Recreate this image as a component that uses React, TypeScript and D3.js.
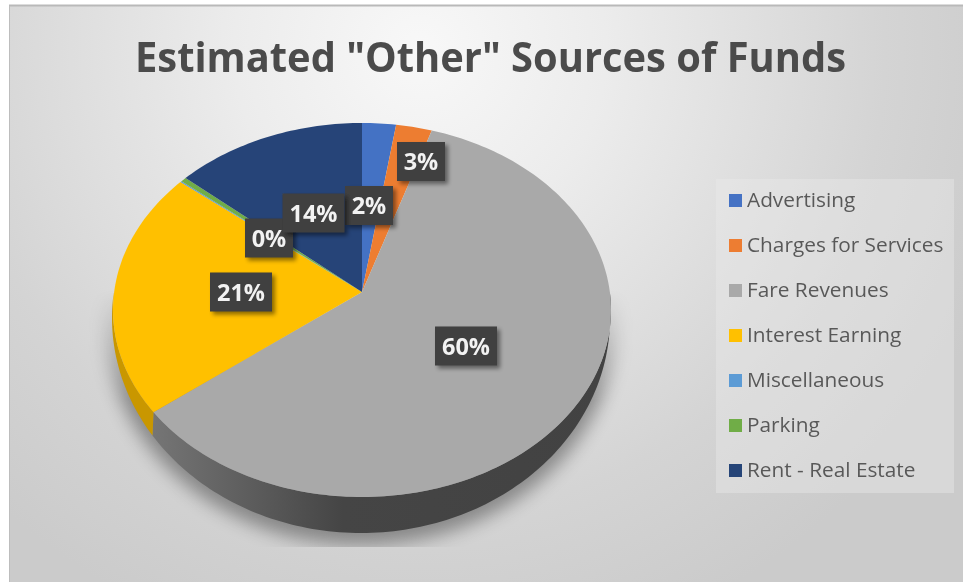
import React from "react";
import * as d3 from "d3";

const categories = ["Advertising", "Charges for Services", "Fare Revenues", "Interest Earning", "Miscellaneous", "Parking", "Rent - Real Estate"];
const shares = [2.4, 2.55, 59.3, 21.2, 0.1, 0.4, 13.6];
const colors = ["#4472c4", "#ed7d31", "#a9a9a9", "#ffc000", "#5b9bd5", "#70ad47", "#264478"];
const sideColors = ["#35589a", "#b9611f", "#666666", "#c99700", "#4778a6", "#578637", "#1d345d"];
const hiddenLabels = ["Miscellaneous"];
const labelSpots: Record<string, [number, number]> = {
  "Advertising": [369, 205.5],
  "Charges for Services": [421, 161.5],
  "Fare Revenues": [466, 346],
  "Interest Earning": [241, 292],
  "Parking": [269, 238],
  "Rent - Real Estate": [313.5, 213],
};

const W = 963, H = 582;
const cx = 362, cy = 310, rx = 249, ry = 187, apexY = 292;
const lowCx = 361, lowCy = 318, lowRy = 215;
const tilt = (cy - apexY) / ry;
const project = (a: number): [number, number] => {
  const k = 1 + tilt * Math.cos(a);
  const x = (Math.sin(a) * Math.sqrt(1 - tilt * tilt)) / k;
  const y = (Math.cos(a) + tilt) / k;
  return [cx + rx * x, cy - ry * y];
};
const rim = (a0: number, a1: number) => {
  const n = Math.max(2, Math.ceil(Math.abs(a1 - a0) / 0.02));
  return d3.range(n + 1).map((i) => project(a0 + ((a1 - a0) * i) / n));
};
const line = d3.line();
const slicePath = (a0: number, a1: number) => line([[cx, apexY], ...rim(a0, a1)]) + "Z";
const wallPath = (a0: number, a1: number) => {
  const top = rim(a0, a1);
  const bottom = top
    .slice()
    .reverse()
    .map(([x, y]) => [lowCx + (x - cx), lowCy + ((y - cy) / ry) * lowRy] as [number, number]);
  return line([...top, ...bottom]) + "Z";
};

export default function App() {
  const arcs = d3.pie<number>().sort(null)(shares);
  const total = d3.sum(shares);
  const yLegend = d3.scalePoint<string>().domain(categories).range([200, 470]);
  const visibleFrom = Math.PI * 0.5, visibleTo = Math.PI * 1.5;
  const walls = arcs
    .map((d, i) => ({ i, a0: Math.max(d.startAngle, visibleFrom), a1: Math.min(d.endAngle, visibleTo) }))
    .filter((d) => d.a1 > d.a0);
  return (
    <svg width={W} height={H} style={{ position: "absolute", left: 0, top: 0, background: "#fff" }} fontFamily="'Open Sans', sans-serif">
      <defs>
        <radialGradient id="bg" gradientUnits="userSpaceOnUse" cx={420} cy={50} r={620}>
          <stop offset="0" stopColor="#f8f8f8" />
          <stop offset="0.3" stopColor="#ececec" />
          <stop offset="0.75" stopColor="#d4d4d4" />
          <stop offset="1" stopColor="#cbcbcb" />
        </radialGradient>
        <linearGradient id="wallGrey" gradientUnits="userSpaceOnUse" x1={150} x2={610} y1={0} y2={0}>
          <stop offset="0" stopColor="#767676" />
          <stop offset="0.42" stopColor="#454545" />
          <stop offset="1" stopColor="#424242" />
        </linearGradient>
        <linearGradient id="shadowFade" gradientUnits="userSpaceOnUse" x1={0} x2={0} y1={290} y2={400}>
          <stop offset="0" stopColor="#000" />
          <stop offset="1" stopColor="#fff" />
        </linearGradient>
        <mask id="shadowMask" maskUnits="userSpaceOnUse" x={0} y={0} width={W} height={547}>
          <rect x={0} y={290} width={W} height={257} fill="url(#shadowFade)" />
        </mask>
        <filter id="shadow" x="-20%" y="-20%" width="140%" height="140%">
          <feGaussianBlur stdDeviation="9" />
        </filter>
        <filter id="labelShadow" x="-30%" y="-30%" width="160%" height="160%">
          <feGaussianBlur stdDeviation="2" />
        </filter>
        <filter id="soft"><feGaussianBlur stdDeviation="0.55" /></filter>
      </defs>
      <rect x={9} y={6} width={W - 9} height={H - 6} fill="url(#bg)" />
      <line x1={9} x2={W} y1={5.5} y2={5.5} stroke="#b9b9b9" strokeWidth={2} />
      <line x1={9.5} x2={9.5} y1={6} y2={H} stroke="#bdbdbd" strokeWidth={1} />
      <g mask="url(#shadowMask)">
        <ellipse cx={lowCx} cy={lowCy + 6} rx={rx + 6} ry={lowRy + 6} fill="#000" opacity={0.36} filter="url(#shadow)" />
      </g>
      <g>
        {walls.map(({ i, a0, a1 }) => (
          <path key={i} d={wallPath(a0, a1)} fill={categories[i] === "Fare Revenues" ? "url(#wallGrey)" : sideColors[i]} />
        ))}
        {arcs.map((d, i) => (
          <path key={i} d={slicePath(d.startAngle, d.endAngle)} fill={colors[i]} />
        ))}
      </g>
      <g filter="url(#soft)">
        <text x={490.5} y={72} textAnchor="middle" fontSize={42} fontWeight={700} fill="#4c4c4c" textLength={711} lengthAdjust="spacingAndGlyphs">Estimated "Other" Sources of Funds</text>
        {arcs.map((d, i) => {
          const name = categories[i];
          if (hiddenLabels.includes(name)) return null;
          const [x, y] = labelSpots[name];
          const text = `${Math.round((shares[i] / total) * 100)}%`;
          const w = text.length > 2 ? 62 : 48;
          return (
            <g key={name}>
              <rect x={x - w / 2 + 3} y={y - 19.5 + 3} width={w} height={39} fill="#000" opacity={0.45} filter="url(#labelShadow)" />
              <rect x={x - w / 2} y={y - 19.5} width={w} height={39} fill="#404040" />
              <text x={x} y={y + 8.5} textAnchor="middle" fontSize={23.5} fontWeight={700} fill="#f2f2f2">{text}</text>
            </g>
          );
        })}
        <rect x={716} y={179} width={238} height={314} fill="#ececec" opacity={0.4} />
        {categories.map((c, i) => (
          <g key={c}>
            <rect x={729} y={yLegend(c)! - 6} width={13} height={13} fill={colors[i]} />
            <text x={747} y={yLegend(c)! + 7} fontSize={20.8} fill="#595959">{c}</text>
          </g>
        ))}
      </g>
    </svg>
  );
}
